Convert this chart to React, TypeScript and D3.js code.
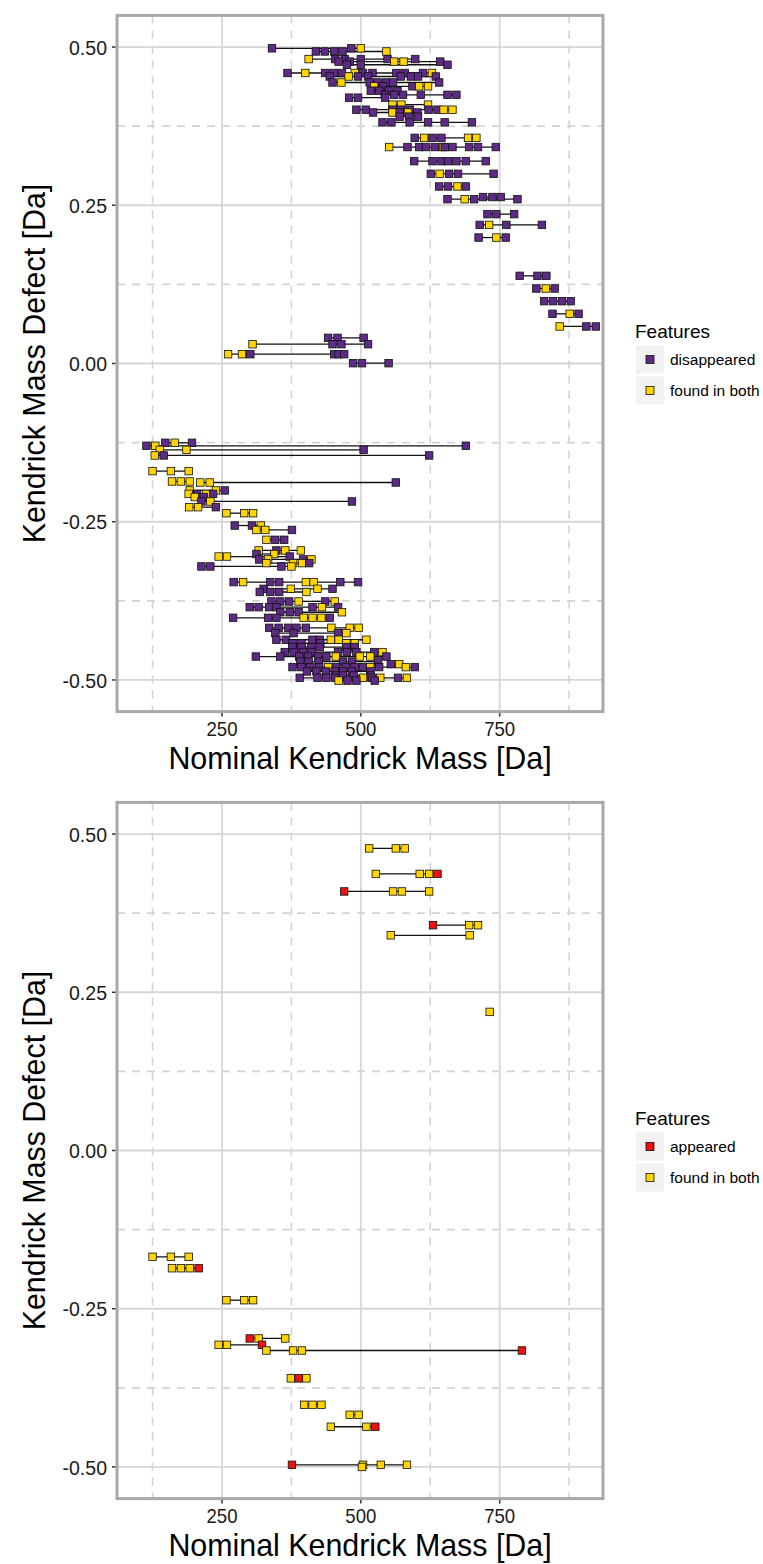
import React from "react";
import * as d3 from "d3";

// axis ticks
const xMajor = [250, 500, 750];
const xMinor = [125, 375, 625, 875];
const yMajor = [-0.5, -0.25, 0, 0.25, 0.5];
const yMinor = [-0.375, -0.125, 0.125, 0.375];

// top plot: P = disappeared, Y = found in both
const topKmd = [
  0.498, 0.493, 0.481, 0.477, 0.472, 0.459, 0.4535, 0.444, 0.438, 0.431,
  0.4245, 0.42, 0.409, 0.401, 0.3966, 0.39, 0.381, 0.3565, 0.342, 0.3197,
  0.2997, 0.2797, 0.2596, 0.263, 0.236, 0.219, 0.199, 0.1385, 0.1185, 0.0985,
  0.0785, 0.0585, 0.0405, 0.0305, 0.0147, 0.0005, -0.1253, -0.13, -0.1364, -0.1453,
  -0.17, -0.1864, -0.188, -0.2006, -0.206, -0.211, -0.218, -0.227, -0.2365, -0.256,
  -0.263, -0.2786, -0.2954, -0.301, -0.305, -0.3096, -0.3154, -0.3207, -0.3454, -0.356,
  -0.361, -0.376, -0.385, -0.393, -0.4018, -0.4176, -0.426, -0.4365, -0.442, -0.448,
  -0.456, -0.463, -0.471, -0.475, -0.4797, -0.4866, -0.493, -0.4966, -0.501,
];
const topMass = [
  [340, 483, 500], [419, 435, 452, 467, 546], [406, 454, 471, 500, 548, 598],
  [460, 480, 560, 577, 643], [475, 500, 656],
  [368, 400, 436, 451, 466, 489, 504, 521, 564, 579, 612, 628],
  [444, 478, 495, 513, 572, 590, 603, 635], [449, 465, 516, 530, 545, 558, 641],
  [524, 540, 593, 605, 621], [518, 533, 550, 566], [543, 560, 576, 608, 656, 672],
  [479, 495, 544], [557, 573, 621], [492, 509, 557, 572, 588, 622, 638, 649, 665],
  [522, 557, 570, 585, 602], [570, 587, 603], [539, 555, 588, 621, 651, 700],
  [597, 614, 629, 645, 693, 708], [551, 584, 605, 617, 633, 648, 651, 665, 695, 711, 743],
  [596, 629, 645, 657, 672, 689, 725], [626, 642, 659, 675, 739], [641, 657, 674, 689],
  [656, 687, 704, 782], [720, 737, 752], [728, 744, 776], [714, 731, 762, 826],
  [712, 744, 761], [786, 818, 834], [816, 833, 849], [830, 846, 862, 878],
  [845, 876, 892], [858, 906, 923], [441, 458, 505], [305, 449, 465, 513],
  [261, 286, 301, 452, 460, 470], [486, 502, 550],
  [148, 165, 196], [114, 130, 689], [138, 186, 505], [129, 145, 623],
  [125, 158, 190], [160, 176, 192], [211, 228, 563], [192, 239, 255],
  [190, 205, 222, 234], [201, 217], [213, 229, 484], [191, 207, 239],
  [258, 290, 306], [273, 304, 320], [312, 328, 376], [330, 346, 362],
  [316, 348, 364, 392], [312, 344], [244, 259, 372], [317, 333, 396, 411],
  [330, 378, 394, 407], [213, 229, 357, 375], [271, 288, 337, 353, 401, 415, 463, 495],
  [325, 374, 422, 449], [318, 337, 353, 402], [339, 355, 371, 388, 436, 453],
  [300, 316, 335, 348, 413, 430, 459], [355, 372, 388, 466],
  [270, 333, 348, 397, 413, 429, 444], [335, 352, 369, 384, 401, 447, 480, 496],
  [346, 379, 459, 474], [348, 365, 413, 426, 446, 460, 510], [377, 393, 427, 474, 489],
  [377, 393, 411, 426, 474, 489], [363, 379, 396, 411, 459, 475, 492, 524, 539],
  [311, 355, 389, 405, 423, 438, 455, 498, 517, 546], [391, 406, 424, 468, 484, 531],
  [554, 569], [377, 393, 409, 425, 441, 456, 473, 489, 504, 517, 533, 581, 597],
  [403, 420, 437, 453, 468, 484, 517], [456, 468, 487, 518],
  [390, 422, 438, 454, 504, 520, 535, 567, 583], [460, 476, 492, 525],
];
const topClass = [
  "PPY", "PPPPY", "YPPPPP", "PPYYP", "PPP", "PYPPPYPPPPPY", "PYPPPPPP", "PYPPPPP",
  "YPPYY", "PPPP", "PPPPPP", "PPP", "YYY", "PPPPPPPYY", "PYPYP", "PPP", "PPPPPP",
  "PYPPYY", "YPPPPYPPPPP", "PPPPPPP", "PYPPP", "PPYP", "PYPP", "PPP", "PPP", "PYPP",
  "PYP", "PPP", "PYP", "PPPP", "PYP", "YPP", "PPP", "YPPP", "YYPPPP", "PPP",
  "PYP", "PYP", "YYP", "YPP", "YYY", "YYY", "YYP", "YYP", "YPYP", "YP", "PYP", "YYP",
  "YYY", "PPY", "YYP", "YPP", "YPYY", "PY", "YYP", "PYPY", "YYYP", "PPPY", "PYPPYYPP",
  "PYYP", "PPPY", "PPPYPY", "PPPPPYP", "PPPY", "PPPYYYP", "PPPPPYYY", "PPPY", "PPPPYYY",
  "PPPYY", "PPPPPP", "PPPPPPPPY", "PPPPPPYYYP", "PPPPPP", "PY", "PPPPYPPPPYPYP",
  "PPPPPPP", "PPPP", "PPPPYPYPY", "YPPP",
];

// bottom plot: R = appeared, Y = found in both
const bottomKmd = [
  0.4773, 0.437, 0.4093, 0.356, 0.34, 0.219, -0.168, -0.186, -0.2365,
  -0.297, -0.307, -0.316, -0.36, -0.4018, -0.4176, -0.4365, -0.4966, -0.5,
];
const bottomMass = [
  [515, 563, 579], [527, 606, 623, 638], [470, 558, 574, 623], [630, 695, 711],
  [554, 696], [732], [125, 158, 190], [160, 176, 192, 208], [258, 290, 306],
  [300, 316, 364], [244, 259, 322], [330, 378, 394, 790], [374, 388, 402],
  [398, 413, 429], [480, 496], [446, 510, 526], [376, 504, 536, 583], [502],
];
const bottomClass = [
  "YYY", "YYYR", "RYYY", "RYY", "YY", "Y", "YYY", "YYYR", "YYY",
  "RYY", "YYR", "YYYR", "YRY", "YYY", "YY", "YYR", "RYYY", "Y",
];

const fills: Record<string, string> = { P: "#5D2A85", Y: "#FFD400", R: "#EE1111" };
const font = "'Liberation Sans', Arial, Helvetica, sans-serif";
const fmt = (v: number) => d3.format(".2f")(v).replace("\u2212", "-");

const left = 117;
const right = 603;
const x = d3.scaleLinear().domain([61, 936]).range([left, right]);

type PlotProps = {
  dy: number;
  kmd: number[];
  mass: number[][];
  cls: string[];
  legend: { key: string; label: string }[];
};

function Plot({ dy, kmd, mass, cls, legend }: PlotProps) {
  const top = 15.4 + dy;
  const bottom = 711.6 + dy;
  const y = d3.scaleLinear().domain([-0.55, 0.55]).range([bottom, top]);
  const cy = (top + bottom) / 2;
  const pts = kmd.flatMap((k, i) =>
    mass[i].map((m, j) => ({ m, k, c: cls[i][j] }))
  );
  const sq = 7.5;
  return (
    <g>
      <rect x={left} y={top} width={right - left} height={bottom - top} fill="#fff" />
      {xMinor.map((v) => (
        <line key={"xm" + v} x1={x(v)} x2={x(v)} y1={top} y2={bottom}
          stroke="#d3d3d3" strokeWidth={1.6} strokeDasharray="8,7" />
      ))}
      {yMinor.map((v) => (
        <line key={"ym" + v} x1={left} x2={right} y1={y(v)} y2={y(v)}
          stroke="#d3d3d3" strokeWidth={1.6} strokeDasharray="8,7" />
      ))}
      {xMajor.map((v) => (
        <line key={"xM" + v} x1={x(v)} x2={x(v)} y1={top} y2={bottom}
          stroke="#d6d6d6" strokeWidth={1.8} />
      ))}
      {yMajor.map((v) => (
        <line key={"yM" + v} x1={left} x2={right} y1={y(v)} y2={y(v)}
          stroke="#d6d6d6" strokeWidth={1.8} />
      ))}
      {kmd.map((k, i) => {
        const ext = d3.extent(mass[i]) as [number, number];
        return ext[0] === ext[1] ? null : (
          <line key={"l" + i} x1={x(ext[0])} x2={x(ext[1])} y1={y(k)} y2={y(k)}
            stroke="#111" strokeWidth={1.3} />
        );
      })}
      {pts.map((p, i) => (
        <rect key={"p" + i} x={x(p.m) - sq / 2} y={y(p.k) - sq / 2} width={sq} height={sq}
          fill={fills[p.c]} stroke="#111" strokeWidth={0.8} />
      ))}
      <rect x={left} y={top} width={right - left} height={bottom - top}
        fill="none" stroke="#a9a9a9" strokeWidth={3} />
      {yMajor.map((v) => (
        <g key={"yt" + v}>
          <line x1={left - 5} x2={left - 1.5} y1={y(v)} y2={y(v)} stroke="#333" strokeWidth={1.5} />
          <text transform={`translate(107,${y(v)}) scale(0.93,1)`} dy="0.36em" textAnchor="end"
            fontSize={21} fontFamily={font} fill="#1a1a1a">{fmt(v)}</text>
        </g>
      ))}
      {xMajor.map((v) => (
        <g key={"xt" + v}>
          <line x1={x(v)} x2={x(v)} y1={bottom + 1.5} y2={bottom + 5} stroke="#333" strokeWidth={1.5} />
          <text transform={`translate(${x(v)},${bottom + 24}) scale(0.93,1)`} textAnchor="middle"
            fontSize={20} fontFamily={font} fill="#1a1a1a">{v}</text>
        </g>
      ))}
      <text transform={`translate(${(left + right) / 2},${bottom + 57}) scale(0.98,1)`}
        textAnchor="middle" fontSize={31} fontFamily={font} fill="#000">
        Nominal Kendrick Mass [Da]
      </text>
      <text transform={`translate(45,${cy}) rotate(-90) scale(0.98,1)`} textAnchor="middle"
        fontSize={31} fontFamily={font} fill="#000">
        Kendrick Mass Defect [Da]
      </text>
      <text x={635} y={cy - 26} fontSize={19} fontFamily={font} fill="#000">Features</text>
      {legend.map((l, i) => {
        const ky = cy - 18 + i * 31;
        return (
          <g key={l.key}>
            <rect x={636} y={ky} width={28} height={28} fill="#f2f2f2" />
            <rect x={650 - 4} y={ky + 14 - 4} width={8} height={8} fill={fills[l.key]}
              stroke="#111" strokeWidth={0.8} />
            <text x={670} y={ky + 14} dy="0.35em" fontSize={15.5} fontFamily={font}
              fill="#000">{l.label}</text>
          </g>
        );
      })}
    </g>
  );
}

export default function App() {
  return (
    <svg width={763} height={1564} style={{ position: "absolute", left: 0, top: 0, background: "#fff" }}>
      <rect width={763} height={1564} fill="#fff" />
      <Plot dy={0} kmd={topKmd} mass={topMass} cls={topClass}
        legend={[{ key: "P", label: "disappeared" }, { key: "Y", label: "found in both" }]} />
      <Plot dy={787} kmd={bottomKmd} mass={bottomMass} cls={bottomClass}
        legend={[{ key: "R", label: "appeared" }, { key: "Y", label: "found in both" }]} />
    </svg>
  );
}
